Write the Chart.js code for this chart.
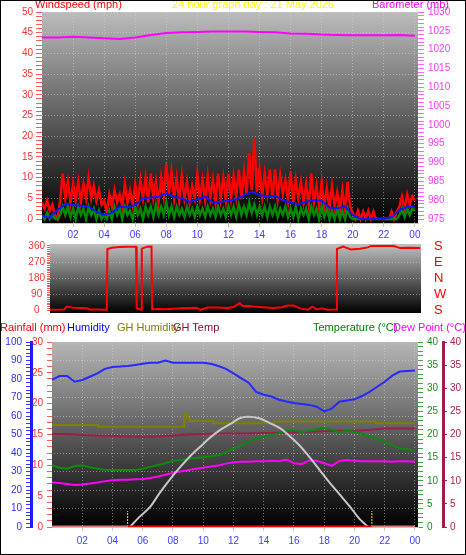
<!DOCTYPE html>
<html>
<head>
<meta charset="utf-8">
<title>24 hour graph</title>
<script src="https://cdn.jsdelivr.net/npm/chart.js@4.4.1/dist/chart.umd.min.js"></script>
<style>
  html, body { margin: 0; padding: 0; background: #fff; }
  #wrap { position: relative; width: 466px; height: 555px; overflow: hidden; font-family: "Liberation Sans", Arial, sans-serif; }
  #wrap canvas { position: absolute; left: 0; }
  .lbl { position: absolute; font-size: 11px; line-height: 11px; white-space: nowrap; }
  #frame { position: absolute; left: 0; top: 0; width: 466px; height: 555px; box-sizing: border-box; border: 1px solid #000; pointer-events: none; }
</style>
</head>
<body>
<div id="wrap">
  <canvas id="windChart" width="466" height="245" style="top:0px"></canvas>
  <canvas id="dirChart" width="466" height="80" style="top:240px"></canvas>
  <canvas id="tempChart" width="466" height="240" style="top:315px"></canvas>

  <div class="lbl" style="left:35px; top:-1px; color:#ff0000">Windspeed (mph)</div>
  <div class="lbl" style="left:172px; top:-1px; color:#ffff00">24 hour graph day : 21 May 2026</div>
  <div class="lbl" style="left:372px; top:-1px; color:#ff00ff">Barometer (mb)</div>

  <div class="lbl" style="left:0px; top:322px; color:#ff0000">Rainfall (mm)</div>
  <div class="lbl" style="left:67px; top:322px; color:#0000ff">Humidity</div>
  <div class="lbl" style="left:117px; top:322px; color:#808000">GH Humidity</div>
  <div class="lbl" style="left:173px; top:322px; color:#8b0a3c">GH Temp</div>
  <div class="lbl" style="left:313px; top:322px; color:#008000">Temperature (°C)</div>
  <div class="lbl" style="left:393px; top:322px; color:#ff00ff">Dew Point (°C)</div>
  <div id="frame"></div>
</div>

<script>
// ---- wind (10 minute samples, mph) ----
const gustMph = [
  4, 2.5, 4.5, 2, 3.5, 1,
  0, 4.5, 11, 5, 9, 4,
  8.5, 4.5, 9, 4, 8.5, 5,
  10, 5, 8, 4.5, 7, 3.5,
  4.5, 1.5, 6, 3, 7, 4,
  6, 3, 8.5, 4, 7, 3.5,
  8.5, 4, 9.5, 5, 10, 4,
  11, 5, 9, 4, 10, 5.5,
  13.5, 6, 11.5, 5, 10, 4.5,
  10.5, 5, 9, 4, 8, 5,
  11, 5, 9.5, 4.5, 10.5, 5,
  9.5, 4, 11, 5, 10, 4.5,
  11, 5, 10.5, 5.5, 12, 5,
  11.5, 6, 16, 7, 19.5, 6.5,
  12, 5.5, 11, 6, 12, 5,
  12, 5, 10.5, 6, 9.5, 4.5,
  11.5, 4, 9.5, 5, 9, 4,
  8.5, 3.5, 11, 4, 8, 3,
  9, 3, 7.5, 2.5, 8, 3,
  6.5, 2, 7, 2.5, 9, 3,
  1.5, 0, 2, 0, 1.8, 0,
  2, 0, 1.8, 0, 0, 0,
  0, 0, 0, 1.8, 0, 1.8,
  3, 5.5, 2.5, 6, 3.5, 5.5,
  4.5
];
const windMph = [
  1, 0, 1.5, 0, 1, 0,
  0, 1, 3, 1, 3, 0.5,
  2.5, 0, 3, 1, 2.5, 0,
  3, 1, 2.5, 0, 2, 0,
  1, 0, 2, 0, 3, 1,
  2.5, 0, 3, 1, 2, 0,
  3, 1, 2.5, 0, 3, 1,
  3, 0.5, 3.5, 1, 3, 1,
  4, 1, 3, 0.5, 3, 1,
  2.5, 0.5, 3, 1, 2.5, 0.5,
  3, 1, 2.5, 0.5, 3, 1,
  2.5, 0.5, 3, 1, 2.5, 0.5,
  3, 1, 3, 0.5, 3.5, 1,
  3, 1, 4, 1.5, 3.5, 1,
  3, 1, 3, 0.5, 3, 1,
  3, 0.5, 2.5, 1, 3, 0.5,
  2.5, 0.5, 3, 0, 2.5, 1,
  2.5, 0, 3, 1, 2.5, 0,
  3, 0.5, 2.5, 0, 2, 0,
  2.5, 0, 2, 0, 2.5, 0.5,
  0, 0, 0, 0, 0, 0,
  0, 0, 0, 0, 0, 0,
  0, 0, 0, 0, 0, 0,
  1, 2.5, 0.5, 2.5, 1, 2.5,
  2
];
// half-hourly average speed
const avgMph = [0.8, 0.3, 2.2, 3.6, 3.4, 3.2, 3.0, 1.8, 1.0, 1.5, 3.0, 2.8, 3.4, 5.0, 5.2, 5.4, 6.2, 5.4, 5.0, 4.2,
  4.8, 5.4, 4.0, 4.2, 4.4, 4.8, 5.8, 6.6, 5.8, 5.4, 5.6, 4.6, 4.0, 3.5, 4.2, 4.6, 4.4, 2.8, 2.6, 3.0,
  1.0, 0, 0, 0, 0, 0.5, 2.2, 2.9, 2.9];
// hourly barometer (mb)
const barometer = [1023.2, 1023.2, 1023.4, 1023.2, 1023.0, 1022.8, 1023.2, 1023.9, 1024.4, 1024.6, 1024.7, 1024.8,
  1024.8, 1024.8, 1024.7, 1024.6, 1024.3, 1024.2, 1024.0, 1023.9, 1023.8, 1023.8, 1023.8, 1023.9, 1023.7];

// ---- wind direction ----
const dirHours = [0, 0.9, 1.1, 1.5, 2.0, 2.4, 2.6, 3.0, 3.68, 3.72, 4.0, 4.5, 5.0, 5.58, 5.62, 5.9, 5.95, 6.3, 6.58, 6.62,
  7.0, 7.5, 8.0, 8.5, 9.0, 9.5, 9.75, 10.2, 10.8, 11.5, 11.9, 12.3, 12.5, 12.8, 13.2, 13.6, 14.0, 14.5, 15.0, 15.4,
  15.8, 16.2, 16.7, 17.0, 17.3, 17.6, 18.0, 18.55, 18.6, 19.0, 19.5, 20.1, 20.6, 20.8, 21.5, 22.3, 22.7, 23.3, 24];
const dirDeg = [2, 3, 20, 14, 12, 10, 4, 3, 2, 343, 350, 354, 356, 355, 12, 2, 345, 356, 357, 5,
  6, 5, 8, 10, 12, 14, 2, 15, 15, 12, 18, 40, 22, 25, 20, 18, 15, 12, 16, 26,
  26, 10, 2, 20, 4, 10, 2, 3, 343, 356, 340, 345, 352, 360, 360, 360, 348, 350, 348];
const compassLabels = ['S', 'W', 'N', 'E', 'S'];

// ---- temperature / humidity panel (half-hourly) ----
const humidity = [79.5, 81.6, 81.6, 78.5, 79.5, 81.2, 83, 85.5, 86.5, 86.7, 87, 87.6, 88.2, 88.8, 88.8, 90, 88.8, 88.8,
  88.8, 88.8, 88.8, 88.2, 87, 85.5, 83, 80.5, 78, 73, 71.5, 70.5, 68.8, 67.8, 67, 66.5, 66, 65, 62.5, 64,
  67.7, 68.4, 69, 70.8, 73, 75.8, 78.5, 81.8, 84, 84.3, 84.6];
const temperature = [13.3, 12.8, 12.6, 13.2, 13.3, 12.9, 12.6, 12.4, 12.3, 12.3, 12.3, 12.3, 12.6, 13, 13.4, 13.8,
  14.3, 14.5, 14.7, 14.9, 15.1, 15.3, 15.5, 16.2, 16.9, 17.6, 18.4, 19.1, 19.6, 19.9, 20.3, 20.8, 20.9, 20.5,
  20.8, 21.1, 21.4, 21.0, 20.5, 20.8, 20.6, 20.1, 19.6, 19.0, 18.4, 17.7, 17.0, 16.8, 16.5];
const dewPoint = [9.6, 9.5, 9.3, 9.1, 9.2, 9.4, 9.6, 9.9, 10.1, 10.2, 10.2, 10.3, 10.4, 10.6, 10.9, 11.3, 11.7, 12,
  12.3, 12.6, 12.8, 13.1, 13.3, 13.7, 14, 14.1, 14.1, 14.2, 14.2, 14.3, 14.2, 14.6, 13.8, 13.6, 14.4, 14.3,
  13.8, 13.2, 14.3, 14.5, 14.3, 14.2, 14.2, 14.2, 14.2, 14.1, 14.2, 14.2, 14.1];
// hourly greenhouse temperature
const ghTemp = [20.1, 20.1, 19.9, 19.8, 19.7, 19.6, 19.5, 19.6, 19.8, 20.0, 20.1, 20.2, 20.2, 20.2, 20.3, 20.4,
  20.5, 20.6, 20.7, 20.8, 20.8, 21.0, 21.3, 21.3, 21.3];
const ghHumHours = [0, 3.05, 8.75, 8.95, 9.1, 10.65, 14.7, 21.4, 24];
const ghHumidity = [55.1, 54.2, 61, 58.5, 57.3, 56.1, 57, 56.1, 56.1];
const solarHours = [5.15, 5.8, 6.5, 7.1, 7.8, 8.5, 9.1, 9.8, 10.4, 11.1, 11.8, 12.4, 12.95, 13.7, 14.4, 15.1, 15.7,
  16.4, 17.0, 17.7, 18.3, 19.0, 19.7, 20.3, 20.9];
const solarValue = [0, 5.6, 11, 18.2, 25.8, 32.6, 38, 43.4, 48, 52.4, 55.7, 58.8, 59.6, 58.8, 56.2, 53.3, 49.2,
  43.8, 38, 30.8, 24.5, 17.8, 11, 4.7, 0];
const rainHours = [0, 5.0, 21.15, 24];
const rainfall = [0, 0, 0, 0];
const sunriseHour = 5.0;
const sunsetHour = 21.15;

const hourTicks = [2, 4, 6, 8, 10, 12, 14, 16, 18, 20, 22, 24];

// time grids
const tenMin = gustMph.map((_, i) => i / 6);
const halfHour = humidity.map((_, i) => i / 2);
const hourly = barometer.map((_, i) => i);

const GRID = 'rgba(215,215,215,0.5)';
const NONE = 'rgba(0,0,0,0)';
const FONT = { family: '"Liberation Sans", Arial, sans-serif', size: 10 };
Chart.defaults.font.family = FONT.family;

const xy = (xs, ys) => ys.map((y, i) => ({ x: xs[i], y: y }));
const steps = (from, to, step) => {
  const out = [];
  for (let v = from; v <= to + 1e-9; v += step) out.push({ value: Math.round(v * 100) / 100 });
  return out;
};
const hh = v => String(v % 24).padStart(2, '0');

// gradient behind each plot area
const panelBg = {
  id: 'panelBg',
  beforeDraw(chart, args, opts) {
    const { ctx, chartArea: a } = chart;
    const g = ctx.createLinearGradient(0, a.top, 0, a.bottom);
    g.addColorStop(0, opts.from);
    g.addColorStop(1, opts.to);
    ctx.save();
    ctx.fillStyle = g;
    ctx.fillRect(a.left, a.top, a.right - a.left, a.bottom - a.top);
    ctx.restore();
  }
};

function fixWidth(w) {
  return s => { s.width = w; s.paddingTop = 0; s.paddingBottom = 0; };
}

function timeAxis(max, height, pad) {
  return {
    type: 'linear', min: 0, max: max,
    afterBuildTicks: s => { s.ticks = hourTicks.map(v => ({ value: v })); },
    afterFit: s => { s.height = height; s.paddingLeft = 0; s.paddingRight = 0; },
    ticks: { autoSkip: false, maxRotation: 0, color: '#3c3cff', font: FONT, padding: pad, callback: v => hh(v) },
    grid: { color: GRID, tickColor: 'rgba(190,190,190,0.9)', tickLength: 4 },
    border: { display: true, color: '#c4c4c4', dash: [1, 2] }
  };
}

const common = {
  responsive: false,
  animation: false,
  events: [],
  elements: { point: { radius: 0 }, line: { tension: 0 } },
};

// ---------------- wind speed + barometer ----------------
new Chart(document.getElementById('windChart'), {
  type: 'line',
  data: {
    datasets: [
      { label: 'Barometer', yAxisID: 'yB', data: xy(hourly, barometer), borderColor: '#ff00ff', borderWidth: 2, order: 0 },
      { label: 'Average', yAxisID: 'y', data: xy(halfHour, avgMph), borderColor: '#1414ff', borderWidth: 2, order: 1 },
      { label: 'Wind', yAxisID: 'y', data: xy(tenMin, windMph), borderColor: '#008a00', borderWidth: 2.5, order: 2 },
      { label: 'Gust', yAxisID: 'y', data: xy(tenMin, gustMph), borderColor: '#ff0000', borderWidth: 2.5, order: 3 }
    ]
  },
  options: {
    ...common,
    layout: { padding: { top: 12, left: 0, right: 0, bottom: 0 } },
    plugins: { legend: { display: false }, tooltip: { enabled: false }, panelBg: { from: '#bcbcbc', to: '#000000' } },
    scales: {
      x: timeAxis(24.2, 22, 2),
      y: {
        position: 'left', min: -0.95, max: 50,
        afterBuildTicks: s => { s.ticks = steps(0, 50, 1); },
        afterFit: fixWidth(42),
        ticks: { autoSkip: false, color: '#ff3030', font: FONT, padding: 3, callback: v => (v % 5 === 0 ? v : '') },
        grid: { color: c => (c.tick && c.tick.value % 5 === 0 && c.tick.value > 0 ? GRID : NONE), tickColor: '#ff5a5a', tickLength: 6 },
        border: { display: false, dash: [1, 2] }
      },
      yB: {
        position: 'right', min: 973.94, max: 1030,
        afterBuildTicks: s => { s.ticks = steps(975, 1030, 1); },
        afterFit: fixWidth(48),
        ticks: { autoSkip: false, color: '#ff3cff', font: FONT, padding: 4, callback: v => (v % 5 === 0 ? v : '') },
        grid: { drawOnChartArea: false, tickColor: '#ff66ff', tickLength: 6 },
        border: { display: false }
      }
    }
  },
  plugins: [panelBg]
});

// ---------------- wind direction ----------------
new Chart(document.getElementById('dirChart'), {
  type: 'line',
  data: {
    datasets: [
      { label: 'Direction', yAxisID: 'y', data: xy(dirHours, dirDeg), borderColor: '#ff0000', borderWidth: 2 }
    ]
  },
  options: {
    ...common,
    layout: { padding: { top: 4, left: 0, right: 0, bottom: 7 } },
    plugins: { legend: { display: false }, tooltip: { enabled: false }, panelBg: { from: '#c0c0c0', to: '#000000' } },
    scales: {
      x: { type: 'linear', display: false, min: 0, max: 24.05 },
      y: {
        position: 'left', min: -16, max: 371,
        afterBuildTicks: s => { s.ticks = steps(0, 360, 10); },
        afterFit: fixWidth(50),
        ticks: { autoSkip: false, color: '#ff3030', font: FONT, padding: 2, crossAlign: 'center', callback: v => (v % 90 === 0 ? v : '') },
        grid: { color: c => (c.tick && c.tick.value % 90 === 0 && c.tick.value > 0 && c.tick.value < 360 ? GRID : NONE), tickColor: '#ff5a5a', tickLength: 3 },
        border: { display: false, dash: [1, 2] }
      },
      yC: {
        position: 'right', min: -16, max: 371,
        afterBuildTicks: s => { s.ticks = steps(0, 360, 90); },
        afterFit: fixWidth(45),
        ticks: { autoSkip: false, color: '#ff0000', font: { family: FONT.family, size: 13 }, padding: 13, callback: v => compassLabels[v / 90] },
        grid: { drawOnChartArea: false, drawTicks: false },
        border: { display: false }
      }
    }
  },
  plugins: [panelBg]
});

// ---------------- temperature / humidity ----------------
new Chart(document.getElementById('tempChart'), {
  type: 'line',
  data: {
    datasets: [
      { label: 'Rainfall', yAxisID: 'yR', data: xy(rainHours, rainfall), borderWidth: 3, borderColor: '#ff0000', order: 0,
        segment: { borderColor: c => (c.p0.parsed.x >= sunriseHour && c.p0.parsed.x < sunsetHour ? '#ff0000' : '#d87a7a') } },
      { label: 'Sunrise', yAxisID: 'yH', data: [{ x: sunriseHour, y: 0 }, { x: sunriseHour, y: 8.6 }], borderColor: '#e8e800', borderWidth: 1, borderDash: [2, 1], order: 1 },
      { label: 'Sunset', yAxisID: 'yH', data: [{ x: sunsetHour, y: 0 }, { x: sunsetHour, y: 8.6 }], borderColor: '#e8e800', borderWidth: 1, borderDash: [2, 1], order: 1 },
      { label: 'Solar', yAxisID: 'yH', data: xy(solarHours, solarValue), borderColor: '#c8c8c8', borderWidth: 2, cubicInterpolationMode: 'monotone', order: 2 },
      { label: 'Humidity', yAxisID: 'yH', data: xy(halfHour, humidity), borderColor: '#2828ff', borderWidth: 2, order: 3 },
      { label: 'Dew Point', yAxisID: 'yG', data: xy(halfHour, dewPoint), borderColor: '#ff00ff', borderWidth: 2, order: 4 },
      { label: 'Temperature', yAxisID: 'yT', data: xy(halfHour, temperature), borderColor: '#0c8a0c', borderWidth: 2, order: 5 },
      { label: 'GH Temp', yAxisID: 'yG', data: xy(hourly, ghTemp), borderColor: '#9c1c4c', borderWidth: 2, order: 6 },
      { label: 'GH Humidity', yAxisID: 'yH', data: xy(ghHumHours, ghHumidity), borderColor: '#808000', borderWidth: 2, stepped: true, order: 7 }
    ]
  },
  options: {
    ...common,
    layout: { padding: { top: 27, left: 0, right: 0, bottom: 0 } },
    plugins: { legend: { display: false }, tooltip: { enabled: false }, panelBg: { from: '#b6b6b6', to: '#000000' } },
    scales: {
      x: timeAxis(24.2, 28, 4),
      yH: {
        position: 'left', weight: 2, min: 0, max: 100,
        afterBuildTicks: s => { s.ticks = steps(0, 100, 2); },
        afterFit: fixWidth(31),
        ticks: { autoSkip: false, color: '#2c2cff', font: FONT, padding: 4, callback: v => (v % 10 === 0 ? v : '') },
        grid: { color: c => (c.tick && c.tick.value % 10 === 0 && c.tick.value > 0 && c.tick.value < 100 ? GRID : NONE), tickColor: '#3a3aff', tickLength: 5 },
        border: { display: true, color: '#1c1cff', width: 3, dash: [1, 2] }
      },
      yR: {
        position: 'left', weight: 1, min: 0, max: 30,
        afterBuildTicks: s => { s.ticks = steps(0, 30, 1); },
        afterFit: fixWidth(21),
        ticks: { autoSkip: false, color: '#ff3030', font: FONT, padding: 4, callback: v => (v % 5 === 0 ? v : '') },
        grid: { drawOnChartArea: false, tickColor: '#ff5a5a', tickLength: 5 },
        border: { display: false }
      },
      yT: {
        position: 'right', weight: 1, min: 0, max: 40,
        afterBuildTicks: s => { s.ticks = steps(0, 40, 1); },
        afterFit: fixWidth(25),
        ticks: { autoSkip: false, color: '#1a8c1a', font: FONT, padding: 4, callback: v => (v % 5 === 0 ? v : '') },
        grid: { drawOnChartArea: false, tickColor: '#3aa83a', tickLength: 5 },
        border: { display: false }
      },
      yG: {
        position: 'right', weight: 2, min: 0, max: 40,
        afterBuildTicks: s => { s.ticks = steps(0, 40, 5); },
        afterFit: fixWidth(23),
        ticks: { autoSkip: false, color: '#a41e50', font: FONT, padding: 3 },
        grid: { drawOnChartArea: false, tickColor: '#a41e50', tickLength: 4 },
        border: { display: true, color: '#a01c4c', width: 3 }
      }
    }
  },
  plugins: [panelBg]
});
</script>
</body>
</html>
